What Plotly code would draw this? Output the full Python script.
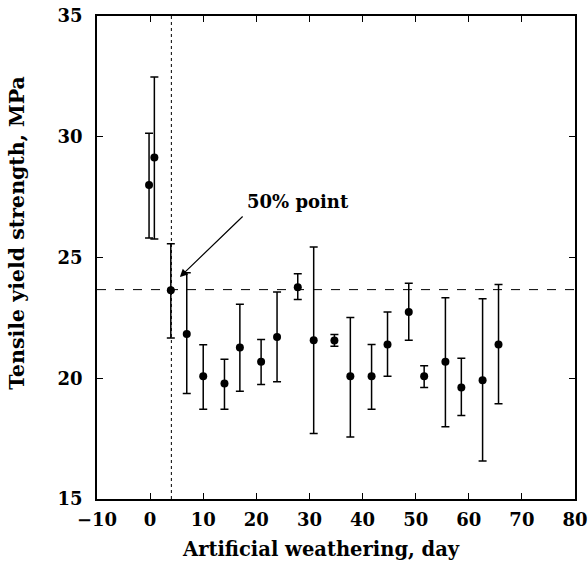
import plotly.graph_objects as go

days = [-0.2, 0.8, 3.9, 6.9, 10.0, 14.0, 16.9, 20.9, 23.9, 27.8, 30.8, 34.7,
        37.7, 41.7, 44.7, 48.7, 51.6, 55.6, 58.6, 62.6, 65.6]
strength = [28.0, 29.14, 23.64, 21.83, 20.08, 19.78, 21.27, 20.68, 21.71, 23.77,
            21.57, 21.56, 20.08, 20.08, 21.4, 22.74, 20.08, 20.68, 19.62, 19.92, 21.4]
upper = [30.15, 32.47, 25.57, 24.37, 21.39, 20.79, 23.06, 21.6, 23.57, 24.33,
         25.43, 21.81, 22.52, 21.4, 22.74, 23.93, 20.52, 23.33, 20.83, 23.29, 23.88]
lower = [25.81, 25.77, 21.67, 19.37, 18.72, 18.72, 19.46, 19.74, 19.85, 23.26,
         17.71, 21.32, 17.57, 18.72, 20.08, 21.57, 19.62, 17.99, 18.46, 16.57, 18.94]

half_strength = 23.67
half_day = 4.0
x_ticks = [-10, 0, 10, 20, 30, 40, 50, 60, 70, 80]
y_ticks = [15, 20, 25, 30, 35]

err_plus = [u - s for u, s in zip(upper, strength)]
err_minus = [s - l for s, l in zip(strength, lower)]

FONT = "DejaVu Serif"
FS = 18

fig = go.Figure()
fig.add_trace(go.Scatter(
    x=days, y=strength, mode="markers",
    marker=dict(symbol="circle", size=8, color="black"),
    error_y=dict(type="data", symmetric=False, array=err_plus, arrayminus=err_minus,
                 color="black", thickness=1.5, width=4),
    showlegend=False, cliponaxis=False,
))

fig.add_shape(type="line", x0=-10, x1=80, y0=half_strength, y1=half_strength,
              xref="x", yref="y", line=dict(color="black", width=1, dash="dash"))
fig.add_shape(type="line", x0=half_day, x1=half_day, y0=15, y1=35,
              xref="x", yref="y", line=dict(color="black", width=1, dash="dot"))

fig.add_annotation(x=5.6, y=24.19, ax=17.7, ay=26.76, xref="x", yref="y",
                   axref="x", ayref="y", text="", showarrow=True,
                   arrowhead=2, arrowsize=1.3, arrowwidth=1.2, arrowcolor="black")
fig.add_annotation(x=27.9, y=27.3, xref="x", yref="y", text="<b>50% point</b>",
                   showarrow=False, font=dict(family=FONT, size=FS, color="black"))

# axis titles
fig.add_annotation(x=0.468, y=0, xref="paper", yref="paper", yshift=-50,
                   text="<b>Artificial weathering, day</b>", showarrow=False,
                   xanchor="center", yanchor="middle",
                   font=dict(family=FONT, size=19.5, color="black"))
fig.add_annotation(x=0, y=0.551, xref="paper", yref="paper", xshift=-80,
                   text="<b>Tensile yield strength, MPa</b>", showarrow=False,
                   textangle=-90, xanchor="center", yanchor="middle",
                   font=dict(family=FONT, size=20.5, color="black"))

axis_common = dict(showline=True, linecolor="black", linewidth=1.5, mirror="ticks",
                   ticks="inside", ticklen=6, tickcolor="black", tickwidth=1.2,
                   showgrid=False, zeroline=False, automargin=False,
                   ticklabeloverflow="allow",
                   tickfont=dict(family=FONT, size=FS, color="black"))

fig.update_xaxes(range=[-10, 80], tickvals=x_ticks,
                 ticktext=["<b>%s</b>" % ("\u221210" if t == -10 else t) for t in x_ticks],
                 ticklabelstandoff=4, **axis_common)
fig.update_yaxes(range=[15, 35], tickvals=y_ticks,
                 ticktext=["<b>%d</b>" % t for t in y_ticks],
                 ticklabelstandoff=9, **axis_common)

fig.update_layout(width=588, height=561, plot_bgcolor="white", paper_bgcolor="white",
                  margin=dict(l=97, r=13, t=16, b=62))

fig.write_html("out.html", config={"displayModeBar": False},
               post_script="document.body.style.margin='0';document.body.style.overflow='hidden';")
